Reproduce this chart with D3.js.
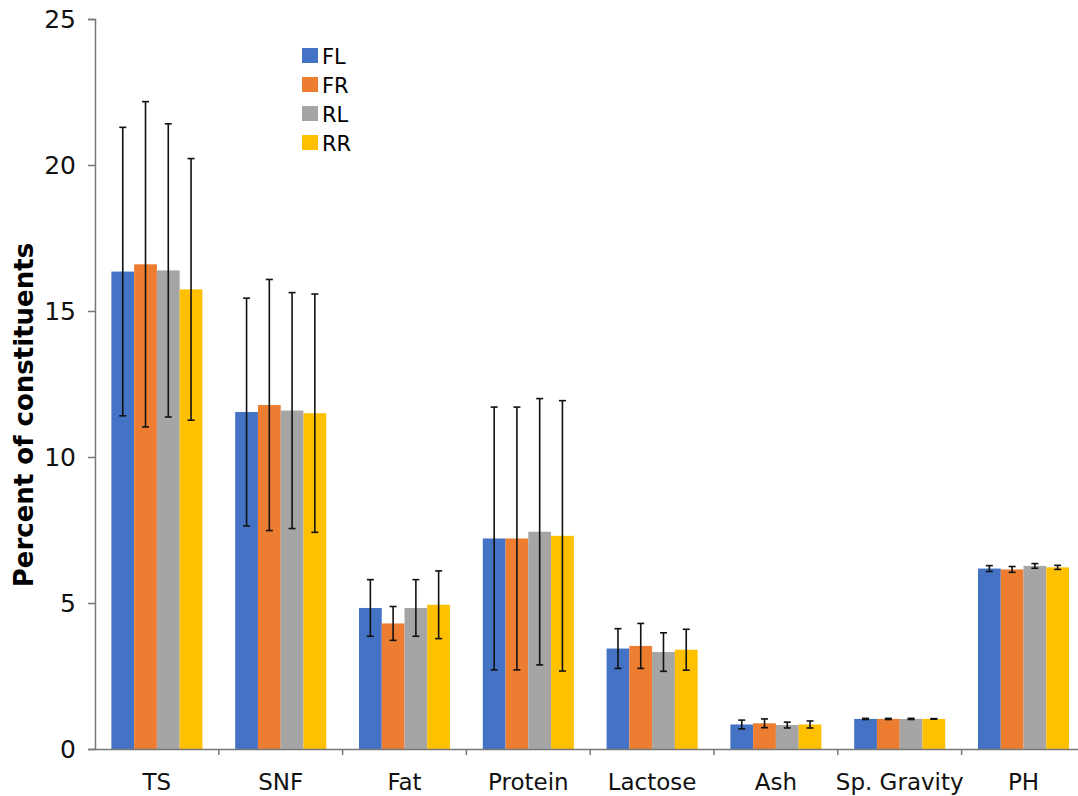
<!DOCTYPE html>
<html><head><meta charset="utf-8">
<script src="https://cdn.jsdelivr.net/npm/d3@7"></script>
<style>body{margin:0;background:#fff}text{font-family:"DejaVu Sans",Verdana,sans-serif}</style>
</head><body><svg></svg>
<script>
'use strict';

var categories = ['TS', 'SNF', 'Fat', 'Protein', 'Lactose', 'Ash', 'Sp. Gravity', 'PH'];
var seriesNames = ['FL', 'FR', 'RL', 'RR'];
var colors = ['#4472c4', '#ed7d31', '#a5a5a5', '#ffc000'];
var means = [
    [16.35, 11.54, 4.83, 7.21, 3.44, 0.84, 1.03, 6.18],
    [16.6, 11.78, 4.3, 7.21, 3.53, 0.88, 1.03, 6.15],
    [16.39, 11.59, 4.83, 7.44, 3.32, 0.82, 1.03, 6.27],
    [15.74, 11.5, 4.94, 7.3, 3.4, 0.84, 1.03, 6.22]
];
var errors = [
    [4.94, 3.9, 0.97, 4.5, 0.68, 0.15, 0.02, 0.1],
    [5.57, 4.3, 0.58, 4.5, 0.77, 0.15, 0.02, 0.1],
    [5.02, 4.04, 0.97, 4.56, 0.66, 0.1, 0.02, 0.08],
    [4.48, 4.08, 1.16, 4.63, 0.7, 0.12, 0.01, 0.07]
];
var yTicks = [0, 5, 10, 15, 20, 25];

var svg = d3.select('svg').attr('width', 1078).attr('height', 796);

var plotLeft = 95, plotTop = 19, plotBottom = 749, bandW = 123.8;
var x = d3.scaleBand().domain(categories).range([plotLeft, plotLeft + bandW * categories.length]).paddingInner(0).paddingOuter(0);
var xInner = d3.scaleBand().domain(seriesNames).range([0, bandW]).paddingOuter(0.72);
var y = d3.scaleLinear().domain([0, 25]).range([plotBottom, plotTop]);

// bars
var groups = svg.append('g').selectAll('g')
    .data(seriesNames)
    .enter().append('g')
    .attr('fill', function (d, i) { return colors[i]; });

groups.selectAll('rect')
    .data(function (d, i) {
        return categories.map(function (c, j) { return {s: d, c: c, v: means[i][j], e: errors[i][j]}; });
    })
    .enter().append('rect')
    .attr('x', function (d) { return x(d.c) + xInner(d.s); })
    .attr('y', function (d) { return y(d.v); })
    .attr('width', xInner.bandwidth())
    .attr('height', function (d) { return plotBottom - y(d.v); });

// error bars
var err = svg.append('g').attr('stroke', '#111').attr('stroke-width', 1.6);
groups.each(function (s, i) {
    categories.forEach(function (c, j) {
        var cx = x(c) + xInner(s) + xInner.bandwidth() / 2;
        var y1 = y(means[i][j] + errors[i][j]), y2 = y(means[i][j] - errors[i][j]);
        err.append('line').attr('x1', cx).attr('x2', cx).attr('y1', y1).attr('y2', y2);
        err.append('line').attr('x1', cx - 3.5).attr('x2', cx + 3.5).attr('y1', y1).attr('y2', y1);
        err.append('line').attr('x1', cx - 3.5).attr('x2', cx + 3.5).attr('y1', y2).attr('y2', y2);
    });
});

// y axis
var yAxis = svg.append('g').attr('transform', 'translate(' + plotLeft + ',0)')
    .call(d3.axisLeft(y).tickValues(yTicks).tickSize(7).tickPadding(12));
yAxis.select('.domain').attr('stroke', '#777').attr('stroke-width', 1.5);
yAxis.selectAll('.tick line').attr('stroke', '#777').attr('stroke-width', 1.5);
yAxis.selectAll('.tick text').attr('font-size', 25).attr('fill', '#111');

// x axis
var xAxis = svg.append('g').attr('transform', 'translate(0,' + plotBottom + ')')
    .call(d3.axisBottom(x).tickSize(0).tickPadding(25));
xAxis.select('.domain').attr('stroke', '#777').attr('stroke-width', 1.5);
xAxis.selectAll('.tick text').attr('font-size', 23).attr('fill', '#111');
svg.append('g').selectAll('line')
    .data(categories.slice(1))
    .enter().append('line')
    .attr('x1', function (d) { return x(d); }).attr('x2', function (d) { return x(d); })
    .attr('y1', plotBottom).attr('y2', plotBottom + 6)
    .attr('stroke', '#777').attr('stroke-width', 1.5);

// y title
svg.append('text')
    .attr('transform', 'translate(33,415) rotate(-90)')
    .attr('text-anchor', 'middle')
    .attr('font-size', 26).attr('font-weight', 'bold')
    .text('Percent of constituents');

// legend
var legend = svg.append('g').selectAll('g')
    .data(seriesNames)
    .enter().append('g')
    .attr('transform', function (d, i) { return 'translate(302,' + (48 + i * 29) + ')'; });
legend.append('rect').attr('width', 16).attr('height', 15)
    .attr('fill', function (d, i) { return colors[i]; });
legend.append('text').attr('x', 20).attr('y', 16).attr('font-size', 21).text(function (d) { return d; });
</script></body></html>
